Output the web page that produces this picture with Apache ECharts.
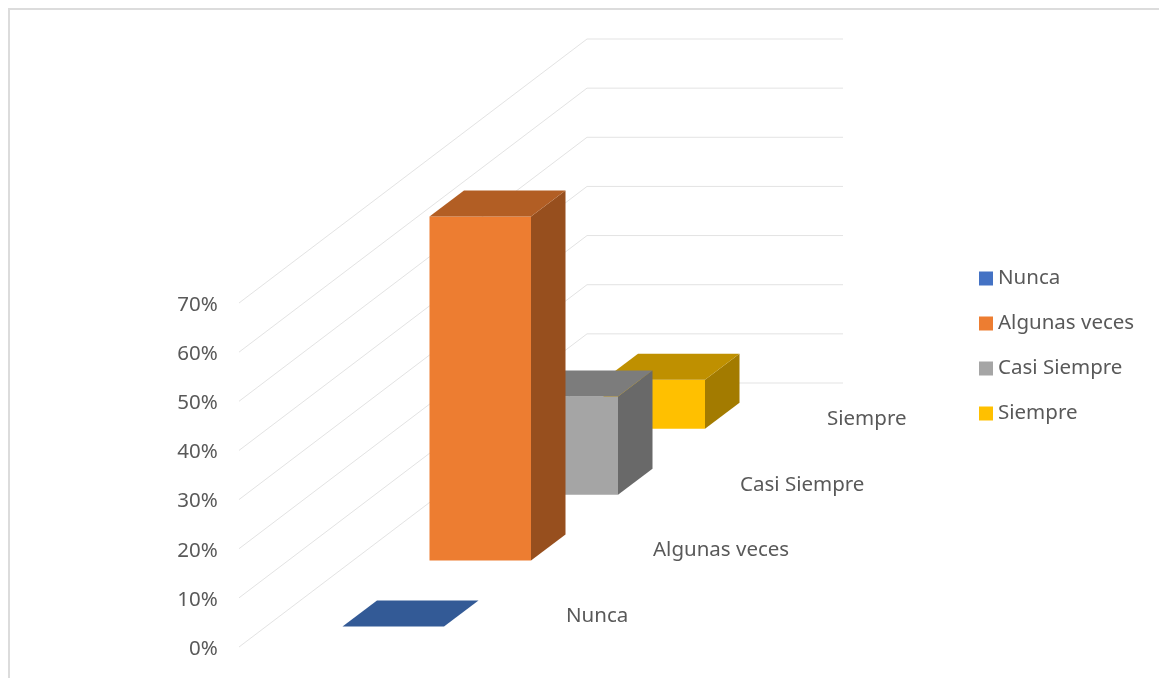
<!DOCTYPE html>
<html>
<head>
<meta charset="utf-8">
<style>html,body{margin:0;padding:0;background:#fff}#c{width:1159px;height:678px}</style>
<script src="https://cdn.jsdelivr.net/npm/echarts@6/dist/echarts.min.js"></script>
</head>
<body>
<div id="c"></div>
<script>
const categories = ['Nunca', 'Algunas veces', 'Casi Siempre', 'Siempre'];
const values = [0, 70, 20, 10];
const yTicks = [0, 10, 20, 30, 40, 50, 60, 70];
const frontColors = ['#4472C4', '#ED7D31', '#A5A5A5', '#FFC000'];
const topColors = ['#335A96', '#B25E24', '#7C7C7C', '#BF9000'];
const sideColors = ['#2A4A7C', '#974F1E', '#696969', '#A37B00'];

const FONT = '"Noto Sans", sans-serif';
const TEXT = '#595959';
// projection of the fake 3D scene
const DEPTH_X = 34.5, DEPTH_Y = -26;      // bar depth
const ROW_Y = -65.9;                      // floor rise per category
const FLOOR_Y = -20.5;                    // first row above the front of the floor
const BAR_W = 101.5;
const WALL = {frontX: -110.75, backX: 237.25, endX: 493.25, rise: -264};

function poly(points, fill) {
  return {type: 'polygon', shape: {points}, style: {fill}};
}

function renderBar(params, api) {
  const i = api.value(0), v = api.value(1);
  const base = api.coord([i, 0]);
  const top = api.coord([i, v]);
  const shift = FLOOR_Y + ROW_Y * i;
  const l = base[0] - BAR_W / 2, r = base[0] + BAR_W / 2;
  const yb = base[1] + shift, yt = top[1] + shift;
  const children = [];
  if (v > 0) {
    children.push(poly([[l, yb], [r, yb], [r, yt], [l, yt]], frontColors[i]));
    children.push(poly([[r, yb], [r + DEPTH_X, yb + DEPTH_Y], [r + DEPTH_X, yt + DEPTH_Y], [r, yt]], sideColors[i]));
  }
  children.push(poly([[l, yt], [r, yt], [r + DEPTH_X, yt + DEPTH_Y], [l + DEPTH_X, yt + DEPTH_Y]], topColors[i]));
  children.push({
    type: 'text',
    style: {
      text: categories[i], x: l + 223.5, y: yb - 10,
      fill: TEXT, font: '20.5px ' + FONT, align: 'left', verticalAlign: 'middle'
    }
  });
  return {type: 'group', children};
}

function renderWall(params, api) {
  const y = api.coord([0, api.value(1)])[1];
  const x0 = params.coordSys.x;
  return {
    type: 'polyline',
    shape: {points: [[x0 + WALL.frontX, y], [x0 + WALL.backX, y + WALL.rise], [x0 + WALL.endX, y + WALL.rise]]},
    style: {fill: null, stroke: '#E3E3E3', lineWidth: 1}
  };
}

const series = [{
  type: 'custom', name: 'walls', silent: true, z: 1,
  renderItem: renderWall,
  encode: {x: 0, y: 1},
  data: yTicks.map(t => [0, t])
}].concat(categories.map((name, i) => ({
  type: 'custom', name, z: 10 - i,
  renderItem: renderBar,
  itemStyle: {color: frontColors[i]},
  encode: {x: 0, y: 1},
  data: [[i, values[i]]]
})));

const chart = echarts.init(document.getElementById('c'), null, {renderer: 'canvas'});
chart.setOption({
  animation: false,
  backgroundColor: '#fff',
  grid: {left: 349.75, top: 303, width: 348, height: 344, containLabel: false},
  xAxis: {type: 'category', data: categories, show: false},
  yAxis: {
    type: 'value', min: 0, max: 70, interval: 10,
    axisLine: {show: false}, axisTick: {show: false}, splitLine: {show: false},
    axisLabel: {formatter: '{value}%', color: TEXT, fontSize: 20.5, fontFamily: FONT, margin: 132, verticalAlign: 'top', lineHeight: 4}
  },
  legend: {
    data: categories, orient: 'vertical', left: 979, top: 268, padding: 0,
    itemWidth: 14, itemHeight: 14, itemGap: 24, icon: 'rect', selectedMode: false,
    textStyle: {color: TEXT, fontSize: 20.5, lineHeight: 21, fontFamily: FONT}
  },
  graphic: [{
    type: 'polyline', silent: true,
    shape: {points: [[9, 678], [9, 9], [1159, 9]]},
    style: {fill: null, stroke: '#DCDCDC', lineWidth: 2}
  }],
  series
});
</script>
</body>
</html>
